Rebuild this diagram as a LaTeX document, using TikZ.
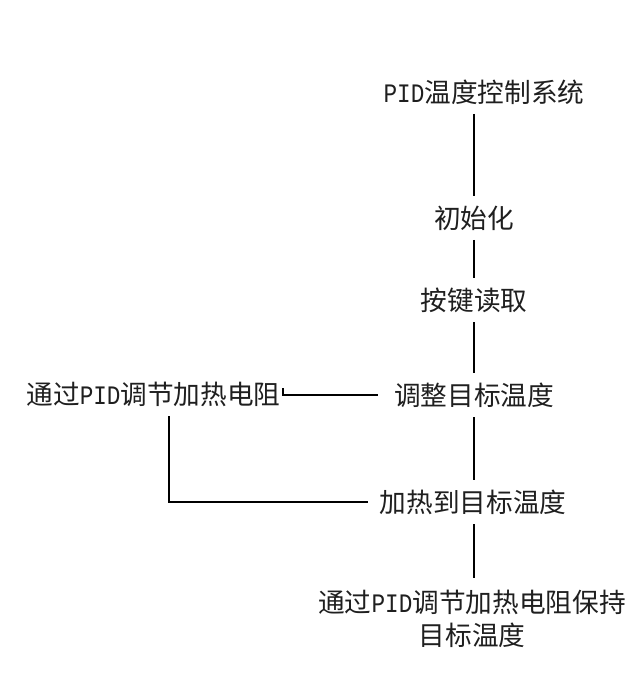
\documentclass[tikz,border=0pt]{standalone}
\usepackage{fontspec}
\setmainfont{Noto Sans CJK SC}
\newfontfamily\latinmono[FakeStretch=0.85]{Liberation Mono}
\usetikzlibrary{calc}
\newcommand{\PIDtxt}{{\latinmono PID}}
\tikzset{
  lbl/.style={inner xsep=0pt, inner ysep=6.5pt, outer sep=0pt, text height=17.6pt, text depth=2.4pt,
    font=\fontsize{20pt}{24.75pt}\selectfont, text=black!88},
  multi/.style={inner sep=0pt, outer sep=0pt, align=center,
    font=\fontsize{20pt}{24.75pt}\selectfont, text=black!88},
  conn/.style={draw=black, line width=1.2pt}
}
\begin{document}
\begin{tikzpicture}[x=0.75pt, y=-0.75pt]
\useasboundingbox (0,0) rectangle (634,673);
\fill[white] (0,0) rectangle (634,673);
\node[lbl] (title) at (484,92) {\PIDtxt 温度控制系统};
\node[lbl] (init) at (474,218) {初始化};
\node[lbl] (key) at (474,300) {按键读取};
\node[lbl] (adj) at (474,395) {调整目标温度};
\node[lbl] (heat) at (473,502) {加热到目标温度};
\node[lbl] (left) at (153.5,394) {通过\PIDtxt 调节加热电阻};
\node[multi, anchor=north] (final) at (472,590) {通过\PIDtxt 调节加热电阻保持\\目标温度};
\coordinate (lb) at ($(left.south west)!0.56!(left.south east)$);
\coordinate (fin) at ([yshift=9pt]final.north -| init.south);
\draw[conn] (title.south -| init.north) -- (init.north);
\draw[conn] (init.south) -- (key.north);
\draw[conn] (key.south) -- (adj.north);
\draw[conn] (adj.south) -- (adj.south |- heat.north);
\draw[conn] (heat.south -| adj.south) -- (fin);
\draw[conn, shorten >=12pt] ([shift={(2.5,-6)}]left.east) |- (adj.west);
\draw[conn, shorten >=8.7pt] (lb) |- (heat.west);
\end{tikzpicture}
\end{document}
